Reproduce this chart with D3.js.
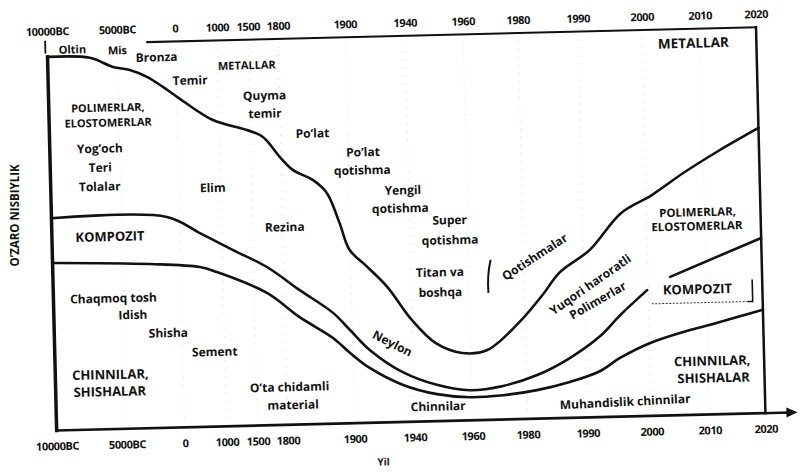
<!DOCTYPE html>
<html><head><meta charset="utf-8">
<script src="https://cdn.jsdelivr.net/npm/d3@7"></script>
<style>
html,body{margin:0;padding:0;background:#fff;}
svg{display:block;}
text{font-family:"Open Sans","Noto Sans",sans-serif;font-weight:700;fill:#111;}
</style></head><body>
<svg id="chart" width="801" height="473"></svg>
<script>
// ---------- data ----------
const tickYears  = [-10000, -5000, 0, 1000, 1500, 1800, 1900, 1940, 1960, 1980, 1990, 2000, 2010, 2020];
const tickLabels = ["10000BC", "5000BC", "0", "1000", "1500", "1800", "1900", "1940", "1960", "1980", "1990", "2000", "2010", "2020"];

// upper boundary of the polymer band (metals above)
const metalsYears  = [-10000, -6980, -5352, -3966, -2509, -1155, 79, 852, 1445, 1624, 1789, 1817, 1847, 1867, 1885, 1899, 1911, 1924, 1940, 1948, 1957, 1966, 1978, 1983, 1986, 1991, 1996, 2001, 2006.5, 2012.5, 2020];
const metalsLevel  = [96.8, 96.3, 93.8, 92.9, 91.0, 88.3, 85.1, 79.4, 76.6, 74.7, 69.4, 66.0, 63.2, 59.8, 51.9, 44.9, 40.4, 35.1, 26.3, 20.2, 17.5, 18.1, 25.2, 32.0, 37.8, 43.4, 52.7, 57.2, 62.7, 68.0, 73.9];

// polymer / composite boundary (null = break in the line at the label)
const polymerYears = [-10000, -1086, 478, 1173, 1632, 1823, 1872, 1897, 1911.5, 1933, 1948, 1959.4, 1971.4, 1981.8, 1987.3, 1992.3, 1995.5, 1999.8, 2002, 2003.8, 2020];
const polymerLevel = [55.0, 54.6, 50.2, 45.6, 41.0, 34.8, 28.7, 24.1, 18.8, 12.9, 9.4, 7.8, 8.7, 11.3, 15.5, 21.0, 26.3, 32.6, null, 35.9, 45.4];

// composite / ceramic boundary
const compositeYears = [-10000, -2647, 457, 859, 1626, 1822, 1871, 1896, 1911, 1933, 1948, 1959.3, 1971.3, 1981.7, 1987.2, 1992.1, 1995.3, 2000.1, 2007, 2011.8, 2020];
const compositeLevel = [43.4, 42.5, 41.4, 40.0, 34.3, 27.8, 22.2, 18.2, 14.2, 9.6, 7.0, 6.0, 6.3, 7.4, 9.3, 11.9, 15.2, 18.9, 22.0, 23.7, 26.8];

// ---------- layout ----------
const svg = d3.select("#chart");
svg.append("rect").attr("width", 801).attr("height", 473).attr("fill", "#fff");
const g = svg.append("g").attr("transform", "rotate(-1.4 400 236)");

const pLeft = 52, pRight = 761, pTop = 36, pBottom = 422;
const x = d3.scaleLinear()
  .domain(tickYears)
  .range([52, 122, 180, 222, 253, 283, 350, 410, 468, 523, 583, 647, 705, 761]);
const y = d3.scaleLinear().domain([0, 100]).range([pBottom, pTop]);

// faint dotted guides
g.append("g").selectAll("line").data(tickYears.slice(1, -1)).join("line")
  .attr("x1", d => x(d)).attr("x2", d => x(d))
  .attr("y1", pTop + 8).attr("y2", pBottom - 4)
  .attr("stroke", "#888").attr("stroke-opacity", 0.35)
  .attr("stroke-width", 1).attr("stroke-dasharray", "1,7");

// axes (labels only)
const axTop = g.append("g").attr("transform", `translate(0,${pTop})`)
  .call(d3.axisTop(x).tickValues(tickYears).tickFormat((d, i) => tickLabels[i]).tickSize(0).tickPadding(9));
const axBot = g.append("g").attr("transform", `translate(0,${pBottom})`)
  .call(d3.axisBottom(x).tickValues(tickYears).tickFormat((d, i) => tickLabels[i]).tickSize(0).tickPadding(12));
[axTop, axBot].forEach(a => {
  a.select(".domain").remove();
  a.selectAll("text").attr("font-size", 11).attr("fill", "#111")
    .attr("font-family", "'Open Sans', sans-serif").attr("font-weight", 700)
    .attr("letter-spacing", "-0.4");
});

// frame
const frame = g.append("g").attr("stroke", "#111").attr("fill", "none").attr("stroke-linecap", "square");
frame.append("line").attr("x1", pLeft).attr("x2", pLeft).attr("y1", y(metalsLevel[0])).attr("y2", pBottom).attr("stroke-width", 3.5);
frame.append("line").attr("x1", pLeft - 2).attr("x2", pLeft - 2).attr("y1", pTop - 3).attr("y2", pTop + 8).attr("stroke-width", 1.8);
frame.append("line").attr("x1", 152).attr("x2", pRight).attr("y1", pTop).attr("y2", pTop).attr("stroke-width", 2);
frame.append("line").attr("x1", pRight).attr("x2", pRight).attr("y1", pTop).attr("y2", pBottom).attr("stroke-width", 2.5);
frame.append("line").attr("x1", pLeft).attr("x2", 784).attr("y1", pBottom).attr("y2", pBottom).attr("stroke-width", 2.6);
g.append("path").attr("d", `M782,${pBottom - 5}L793,${pBottom}L782,${pBottom + 5}Z`).attr("fill", "#111");

// curves
const line = d3.line()
  .defined(d => d[1] != null)
  .x(d => x(d[0])).y(d => y(d[1]))
  .curve(d3.curveCatmullRom.alpha(0.5));
const series = [
  [metalsYears, metalsLevel],
  [polymerYears, polymerLevel],
  [compositeYears, compositeLevel]
];
g.append("g").selectAll("path").data(series).join("path")
  .attr("d", s => line(s[0].map((yr, i) => [yr, s[1][i]])))
  .attr("fill", "none").attr("stroke", "#111").attr("stroke-width", 2.6)
  .attr("stroke-linejoin", "round").attr("stroke-linecap", "round");

// small brackets
g.append("path").attr("d", "M490,262 Q486,278 487,295")
  .attr("fill", "none").attr("stroke", "#111").attr("stroke-width", 2);
g.append("path").attr("d", "M751,288 L751,310 L746,310")
  .attr("fill", "none").attr("stroke", "#111").attr("stroke-width", 1.6);
g.append("line").attr("x1", 650).attr("x2", 746).attr("y1", 310).attr("y2", 310)
  .attr("stroke", "#333").attr("stroke-width", 1).attr("stroke-dasharray", "2,1.5");

// labels
const labels = [
  ["Oltin", 77, 41, 11], ["Mis", 122, 43, 11], ["Bronza", 161, 51, 12], ["Temir", 194, 75, 12],
  ["METALLAR", 251, 61, 11], ["Quyma", 268, 92, 12], ["temir", 268, 110, 12], ["Po\u2019lat", 315, 131, 12],
  ["Po\u2019lat", 365, 151, 12], ["qotishma", 364, 169, 12], ["Yengil", 404, 190, 12], ["qotishma", 401, 208, 12],
  ["Super", 450, 221, 12], ["qotishma", 450, 241, 12], ["Titan va", 439, 273, 12], ["boshqa", 439, 293, 12],
  ["Qotishmalar", 534, 260, 12, -31.6],
  ["METALLAR", 698, 50, 13.5],
  ["POLIMERLAR,", 111, 100, 11], ["ELOSTOMERLAR", 111, 115, 11],
  ["Yog\u2019och", 102, 141, 12], ["Teri", 102, 160, 12], ["Tolalar", 101, 179, 12],
  ["Elim", 214, 183, 12], ["Rezina", 285, 224, 12],
  ["KOMPOZIT", 110, 229, 13],
  ["Chaqmoq tosh", 112, 291, 12], ["Idish", 131, 308, 12], ["Shisha", 166, 327, 12], ["Sement", 212, 347, 12],
  ["CHINNILAR,", 107, 367, 13], ["SHISHALAR", 106, 384, 13],
  ["O\u2019ta chidamli", 286, 384, 12], ["material", 289, 402, 12],
  ["Neylon", 390, 343, 12, 28.4],
  ["Chinnilar", 434, 407, 12],
  ["Muhandislik chinnilar", 621, 407, 12, -1.5],
  ["Yuqori haroratli", 589, 289, 12, -33.6], ["Polimerlar", 596, 305, 12, -28.6],
  ["POLIMERLAR,", 698, 219, 11.5], ["ELOSTOMERLAR", 697, 233, 11.5],
  ["KOMPOZIT", 696, 296, 13],
  ["CHINNILAR,", 709, 368, 13], ["SHISHALAR", 710, 385, 13]
];
g.append("g").selectAll("text").data(labels).join("text")
  .attr("text-anchor", "middle").attr("dominant-baseline", "central")
  .attr("font-size", d => d[3])
  .attr("transform", d => `translate(${d[1]},${d[2]}) rotate(${d[4] || 0})`)
  .text(d => d[0]);

// axis titles
g.append("text").attr("text-anchor", "middle").attr("dominant-baseline", "central")
  .attr("font-size", 11.5).attr("transform", "translate(15,206) rotate(-88.6)")
  .text("O\u2019ZARO NISBIYLIK");
g.append("text").attr("text-anchor", "middle").attr("dominant-baseline", "central")
  .attr("font-size", 10).attr("x", 378).attr("y", 461).text("Yil");
</script>
</body></html>
